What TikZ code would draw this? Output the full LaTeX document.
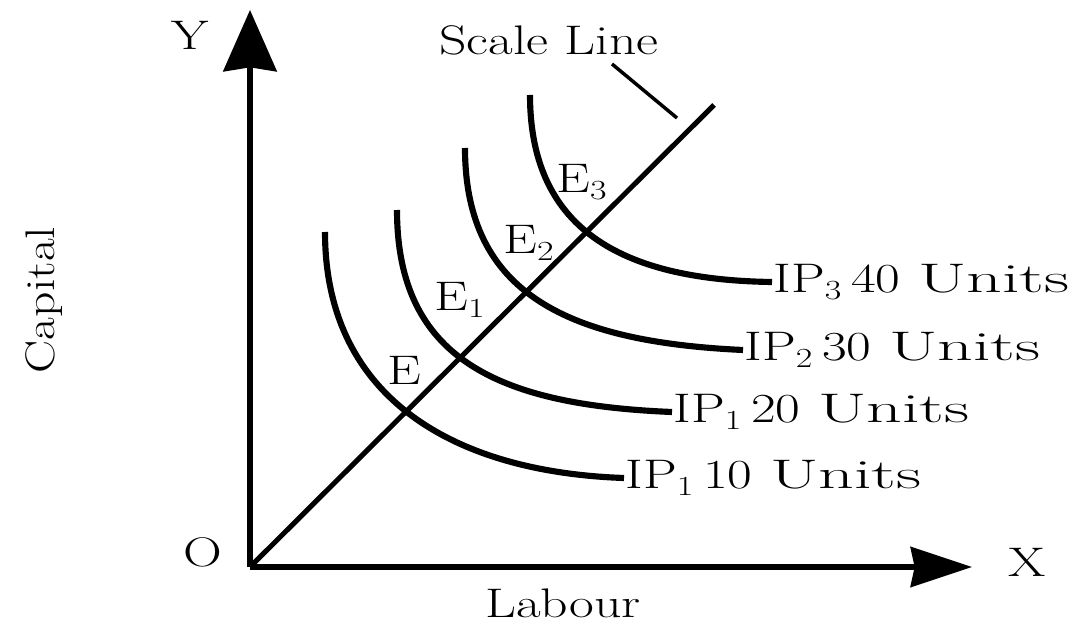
\documentclass[tikz,border=0pt]{standalone}
\usetikzlibrary{arrows.meta}
\tikzset{every picture/.style={line width=0.75pt}}
\newcommand{\widetxt}[1]{\scalebox{1.3}[1]{#1}}
\newcommand{\unitstxt}{\scalebox{1.3}[1]{Units}}
\tikzset{
  axis/.style={line width=3.8pt},
  isoquant/.style={line width=4.6pt},
  lbl/.style={inner sep=0.75pt, font=\fontsize{31}{37}\selectfont},
}

\begin{document}
\begin{tikzpicture}[x=0.75pt,y=0.75pt,yscale=-1,xscale=1]
\useasboundingbox (0,0) rectangle (1081,627);

% Points
\coordinate (O) at (250,567);
\coordinate (ytip) at (250,10);
\coordinate (xtip) at (972,567);
\coordinate (slend) at (714,105);

%Axes
\draw [axis, -{Stealth[length=46pt,width=40pt,inset=3pt]}] (O) -- (ytip) ;
\draw [axis, -{Stealth[length=46pt,width=30pt,inset=3pt]}] (O) -- (xtip) ;
%Scale line
\draw [axis] (O) -- (slend) ;

% Text Node
\node [lbl] (ylab) at (190,35) {\widetxt{Y}};
\node [lbl] (xlab) at (1027,562) {\widetxt{X}};
\node [lbl] (olab) at (203,552) {\widetxt{O}};
\node [lbl] (labour) at (563,603) {\widetxt{Labour}};
\node [lbl, rotate=90] (capital) at (44,300) {\scalebox{1.2}[1]{Capital}};
\node [lbl] (sltext) at (549,40) {\widetxt{Scale Line}};
\coordinate (ldtop) at (612,64);
\coordinate (ldbot) at (677,118);
\draw [line width=2.6pt] (ldtop) -- (ldbot) ;

% Isoquant labels
\node [lbl, anchor=west] (ip10) at (624,478) {\widetxt{IP$_1$\,10\,\,\unitstxt}};
\node [lbl, anchor=west] (ip20) at (672,412) {\widetxt{IP$_1$\,20\,\,\unitstxt}};
\node [lbl, anchor=west] (ip30) at (743,350) {\widetxt{IP$_2$\,30\,\,\unitstxt}};
\node [lbl, anchor=west] (ip40) at (772,282) {\widetxt{IP$_3$\,40\,\,\unitstxt}};

%Curves
\draw [isoquant] (325,232) .. controls (325,395) and (450,472) .. (ip10.west) ;
\draw [isoquant] (397,210) .. controls (397,360) and (500,405) .. (ip20.west) ;
\draw [isoquant] (465,148) .. controls (465,295) and (570,342) .. (ip30.west) ;
\draw [isoquant] (530,95) .. controls (530,235) and (630,280) .. (ip40.west) ;

% Equilibrium points
\node [lbl] (e0) at (404,370) {\widetxt{E}};
\node [lbl] (e1) at (460,300) {\widetxt{E$_1$}};
\node [lbl] (e2) at (529,243) {\widetxt{E$_2$}};
\node [lbl] (e3) at (582,182) {\widetxt{E$_3$}};

\end{tikzpicture}
\end{document}
